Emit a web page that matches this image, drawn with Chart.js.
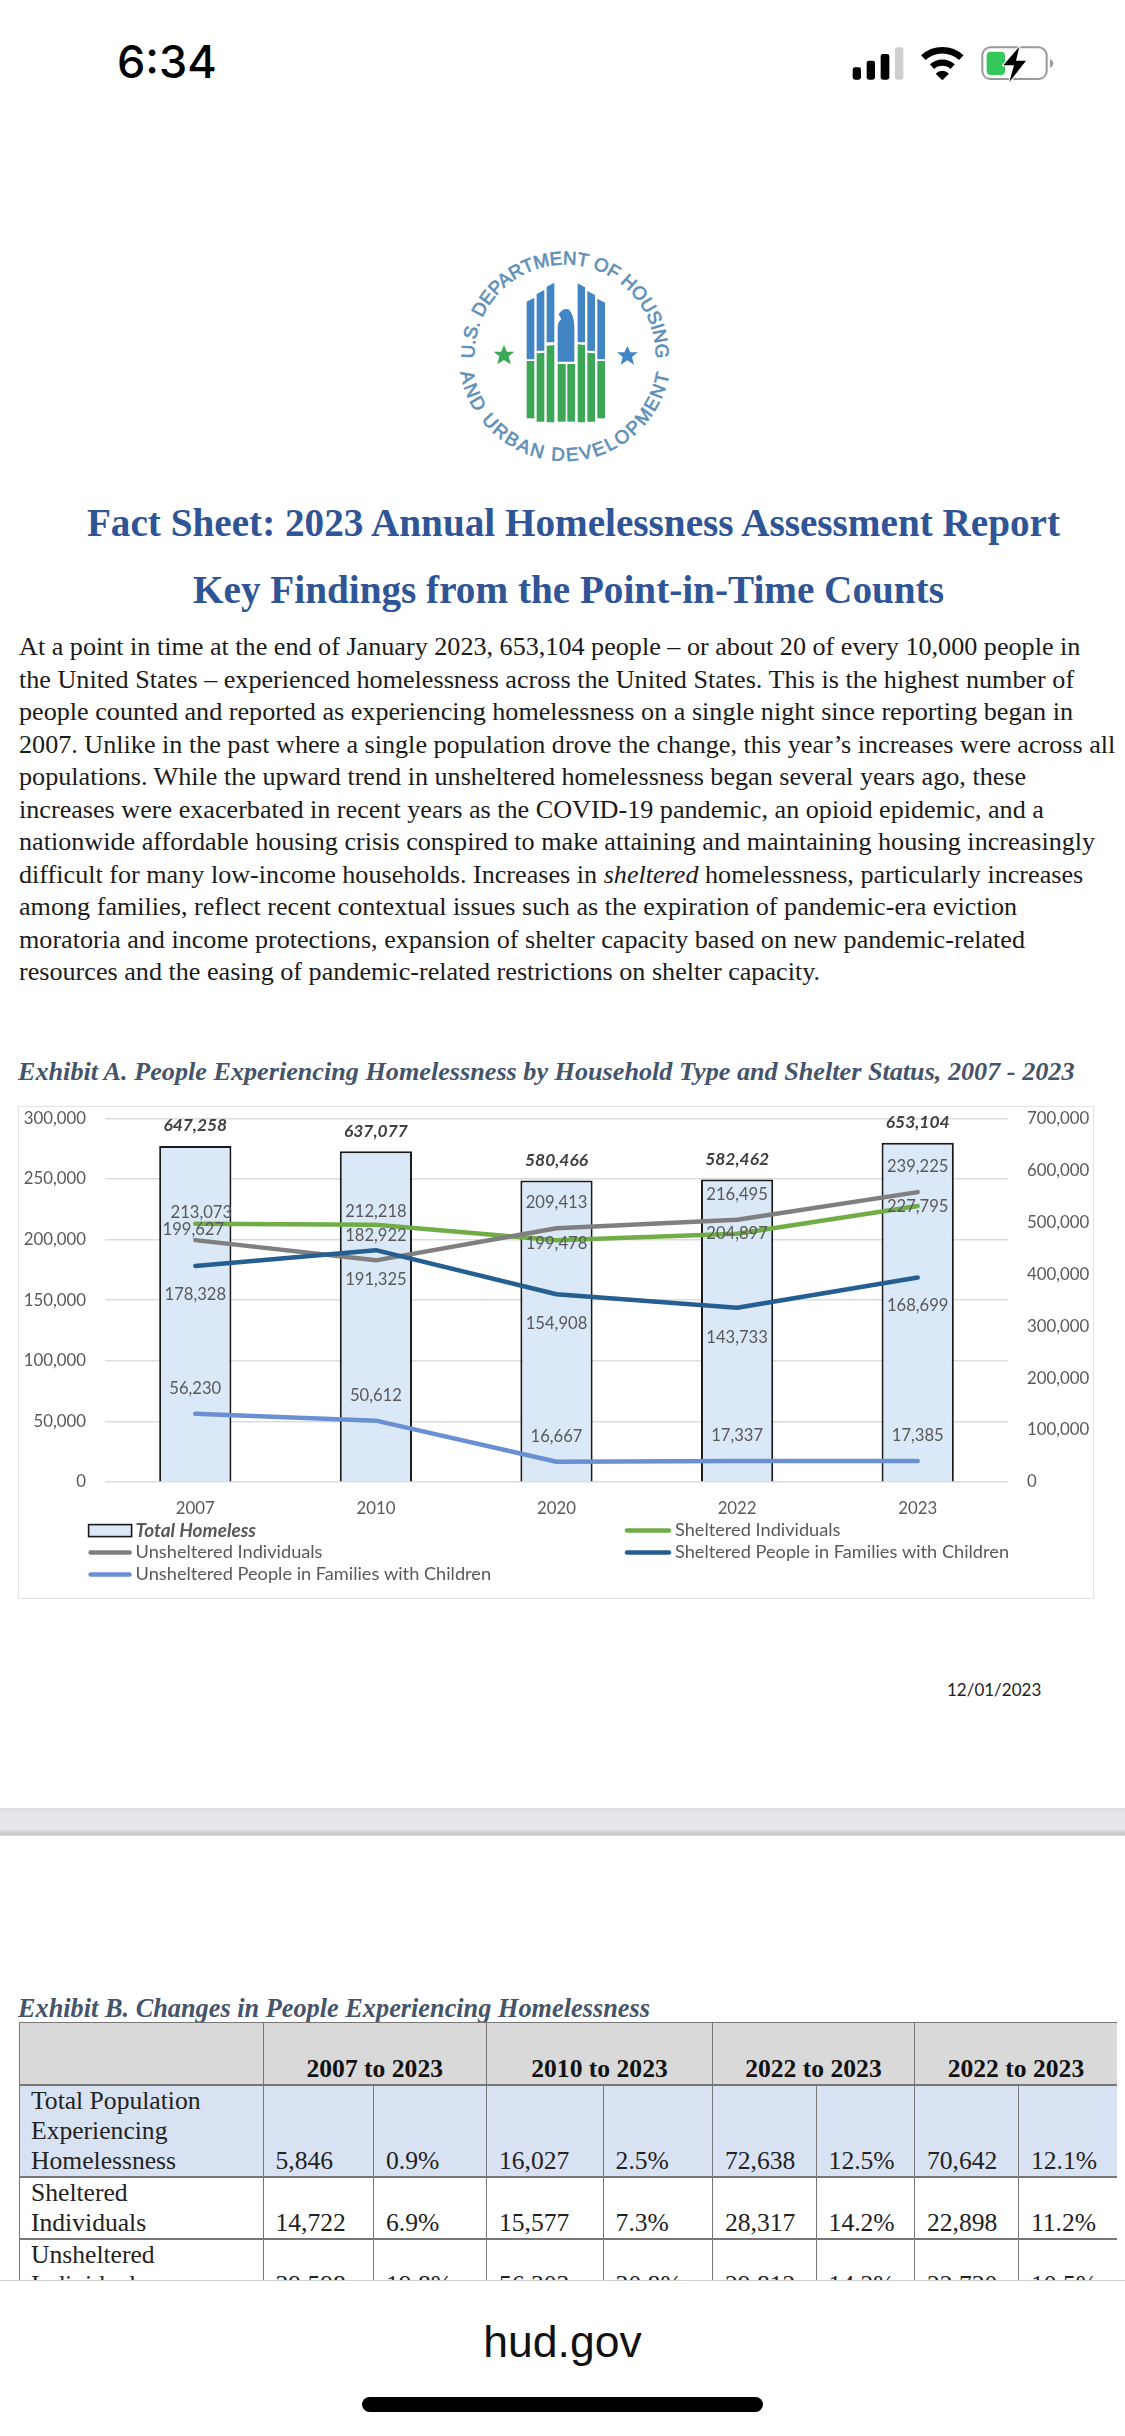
<!DOCTYPE html>
<html>
<head>
<meta charset="utf-8">
<title>Fact Sheet: 2023 AHAR</title>
<script src="https://cdn.jsdelivr.net/npm/chart.js@4"></script>
<style>
  html, body { margin: 0; padding: 0; background: #fff; }
  body { position: relative; width: 1125px; height: 2436px; overflow: hidden; font-family: "Liberation Serif", serif; }
  .abs { position: absolute; white-space: pre; }
  .title { width: 1125px; text-align: center; font-weight: bold; font-size: 39.2px; line-height: 44px; color: #2f5597; }
  .para { left: 19px; top: 631px; font-size: 26.15px; line-height: 32.5px; color: #1a1a1a; }
  .exhibit { font-weight: bold; font-style: italic; color: #44546a; }
  #chartBox { position: absolute; left: 18px; top: 1106px; width: 1076px; height: 493px; box-sizing: border-box; border: 1.5px solid #e2e2e2; }
  #chartBox canvas { position: absolute; left: -1.5px; top: -1.5px; }
  #tableClip { position: absolute; left: 19px; top: 2022px; width: 1098px; height: 258px; overflow: hidden; }
  #tableClip table { border-collapse: collapse; table-layout: fixed; width: 1098px; font-size: 25.6px; line-height: 30px; color: #222; }
  #tableClip td, #tableClip th { border: 1.5px solid #777; padding: 0 0 0 12px; vertical-align: bottom; box-sizing: border-box; }
  #tableClip th { background: #d9d9d9; text-align: center; padding-left: 0; color: #111; border-bottom-width: 2.5px; }
  #tableClip tr.total td { background: #d9e2f3; border-bottom-width: 2.5px; }
  #tableClip tr.plain td { background: #fff; border-bottom-width: 2.5px; }
  #tableClip td.name { padding-left: 11px; }
</style>
</head>
<body>

<div class="abs" style="left:117px;top:35px;font-family:Inter,sans-serif;font-weight:500;font-size:45px;line-height:54px;color:#000">6:34</div>

<svg class="abs" style="left:780px;top:20px" width="345" height="80" viewBox="0 0 1035 240">
  <rect x="218" y="142" width="25" height="37" rx="7" fill="#000"/>
  <rect x="260" y="122" width="25" height="57" rx="7" fill="#000"/>
  <rect x="302" y="102" width="26" height="77" rx="7" fill="#000"/>
  <rect x="345" y="82" width="25" height="97" rx="7" fill="#cfcfcf"/>
  <path d="M430 113 A84 84 0 0 1 544 113" fill="none" stroke="#000" stroke-width="20"/>
  <path d="M456 140 A46 46 0 0 1 518 140" fill="none" stroke="#000" stroke-width="19"/>
  <path d="M467 161 A28 28 0 0 1 507 161 L487 181 Z" fill="#000"/>
  <rect x="607" y="82" width="193" height="95" rx="24" fill="none" stroke="#9a9a9a" stroke-width="6"/>
  <path d="M810 117 Q820 122 820 130 Q820 138 810 143 Z" fill="#9a9a9a"/>
  <rect x="620" y="95" width="55" height="70" rx="12" fill="#34c759"/>
  <path d="M718 80 L670 136 L702 136 L688 186 L738 122 L708 122 Z" fill="#000" stroke="#fff" stroke-width="7" paint-order="stroke" stroke-linejoin="round"/>
</svg>

<svg class="abs" style="left:400px;top:220px" width="320" height="260" viewBox="0 0 960 780">
  <defs>
    <path id="arcTop" d="M227 452 A272 272 0 1 1 763 452"/>
    <path id="arcBottom" d="M177 405 A318 318 0 0 0 813 405"/>
  </defs>
  <g font-family="Liberation Sans, sans-serif" font-size="56" fill="#5f90b8" stroke="#5f90b8" stroke-width="2">
    <text text-anchor="middle" letter-spacing="0"><textPath href="#arcTop" startOffset="50%">U.S. DEPARTMENT OF HOUSING</textPath></text>
    <text text-anchor="middle" letter-spacing="6"><textPath href="#arcBottom" startOffset="50%">AND URBAN DEVELOPMENT</textPath></text>
  </g>
  <g fill="#4285c4">
    <polygon points="380,245 403,233 403,418 380,418"/>
    <polygon points="410,222 433,210 433,392 410,392"/>
    <polygon points="440,200 463,188 463,367 440,367"/>
    <polygon points="533,190 555,202 555,367 533,367"/>
    <polygon points="562,213 585,225 585,392 562,392"/>
    <polygon points="592,236 615,248 615,418 592,418"/>
    <path d="M473 425 L473 322 Q474 304 484 298 L476 283 Q488 264 506 268 Q522 284 523 320 L523 425 Z"/>
    <polygon points="682,378 691,397 713,397 696,411 702,434 682,421 662,434 668,411 651,397 673,397"/>
  </g>
  <g fill="#3ba757">
    <polygon points="380,423 403,423 403,595 380,595"/>
    <polygon points="410,400 433,398 433,605 410,605"/>
    <polygon points="440,377 463,375 463,607 440,607"/>
    <rect x="473" y="432" width="24" height="173"/>
    <rect x="502" y="432" width="23" height="173"/>
    <polygon points="533,373 555,375 555,607 533,607"/>
    <polygon points="562,398 585,400 585,605 562,605"/>
    <polygon points="592,423 615,423 615,595 592,595"/>
    <polygon points="312,376 321,395 343,395 326,409 332,433 312,420 292,433 298,409 281,395 303,395"/>
  </g>
</svg>

<div class="abs title" style="left:11px;top:501px">Fact Sheet: 2023 Annual Homelessness Assessment Report</div>
<div class="abs title" style="left:6px;top:568px">Key Findings from the Point-in-Time Counts</div>

<div class="abs para">At a point in time at the end of January 2023, 653,104 people – or about 20 of every 10,000 people in
the United States – experienced homelessness across the United States. This is the highest number of
people counted and reported as experiencing homelessness on a single night since reporting began in
2007. Unlike in the past where a single population drove the change, this year’s increases were across all
populations. While the upward trend in unsheltered homelessness began several years ago, these
increases were exacerbated in recent years as the COVID-19 pandemic, an opioid epidemic, and a
nationwide affordable housing crisis conspired to make attaining and maintaining housing increasingly
difficult for many low-income households. Increases in <i>sheltered</i> homelessness, particularly increases
among families, reflect recent contextual issues such as the expiration of pandemic-era eviction
moratoria and income protections, expansion of shelter capacity based on new pandemic-related
resources and the easing of pandemic-related restrictions on shelter capacity.</div>

<div class="abs exhibit" style="left:18px;top:1056px;font-size:26.2px;line-height:32px">Exhibit A. People Experiencing Homelessness by Household Type and Shelter Status, 2007 - 2023</div>

<div id="chartBox"><canvas id="myChart" width="1076" height="493"></canvas></div>

<div class="abs" style="left:947px;top:1678px;font-family:Lato,sans-serif;font-size:17px;line-height:24px;color:#222">12/01/2023</div>

<div class="abs" style="left:0;top:1808px;width:1125px;height:28px;background:linear-gradient(#dedee2,#e8e8ec 20%,#e6e6ea 75%,#c4c4c8 96%,#f0f0f2)"></div>

<div class="abs exhibit" style="left:18px;top:1994px;font-size:26.3px;line-height:30px">Exhibit B. Changes in People Experiencing Homelessness</div>

<div id="tableClip">
  <table id="changeTable">
    <colgroup id="changeCols"></colgroup>
  </table>
</div>

<div class="abs" style="left:0;top:2280px;width:1125px;height:156px;background:#fff;border-top:1px solid #cfcfcf"></div>
<div class="abs" style="left:0;top:2315px;width:1125px;text-align:center;font-family:'Liberation Sans',sans-serif;font-size:44.5px;line-height:54px;color:#111">hud.gov</div>
<div class="abs" style="left:362px;top:2397px;width:401px;height:15px;border-radius:8px;background:#000"></div>

<script>
const categories = ["2007", "2010", "2020", "2022", "2023"];
const seriesNames = [
  "Total Homeless",
  "Sheltered Individuals",
  "Unsheltered Individuals",
  "Sheltered People in Families with Children",
  "Unsheltered People in Families with Children",
];
const totalHomeless = [647258, 637077, 580466, 582462, 653104];
const shelteredIndividuals = [213073, 212218, 199478, 204897, 227795];
const unshelteredIndividuals = [199627, 182922, 209413, 216495, 239225];
const shelteredFamilies = [178328, 191325, 154908, 143733, 168699];
const unshelteredFamilies = [56230, 50612, 16667, 17337, 17385];

const tableColumns = [243.5, 110.5, 113, 116.6, 109.4, 103.6, 98.4, 104, 99];
const tableHeads = ["2007 to 2023", "2010 to 2023", "2022 to 2023", "2022 to 2023"];
const tableRows = [
  ["total", "Total Population\nExperiencing\nHomelessness", "5,846", "0.9%", "16,027", "2.5%", "72,638", "12.5%", "70,642", "12.1%"],
  ["plain", "Sheltered\nIndividuals", "14,722", "6.9%", "15,577", "7.3%", "28,317", "14.2%", "22,898", "11.2%"],
  ["plain", "Unsheltered\nIndividuals", "39,598", "19.8%", "56,303", "30.8%", "29,812", "14.2%", "22,730", "10.5%"],
];

const textColor = "#595959";
const chartFont = "Lato, sans-serif";

// label offsets from the mark, hand placed like in the original
const labelNudges = [
  [[0, -20], [0, -20], [0, -20], [0, -20], [0, -20]],
  [[6, -11.5], [0, -13.5], [0, 3], [0, 0], [0, 1]],
  [[-2, -10.5], [0, -25], [0, -26], [0, -25.5], [0, -25.5]],
  [[0, 29], [0, 29], [0, 29], [0, 29.5], [0, 28]],
  [[0, -25.5], [0, -25.5], [0, -25.5], [0, -25.5], [0, -25.5]],
];

const lineSet = (i, values, color, order) => ({
  type: "line",
  label: seriesNames[i],
  data: values,
  yAxisID: "y",
  borderColor: color,
  backgroundColor: color,
  borderWidth: 4.5,
  borderCapStyle: "round",
  borderJoinStyle: "round",
  pointRadius: 0,
  tension: 0,
  order: order,
});

const valueLabels = {
  id: "valueLabels",
  afterDatasetsDraw(chart) {
    const ctx = chart.ctx;
    ctx.save();
    ctx.textAlign = "center";
    ctx.textBaseline = "middle";
    chart.data.datasets.forEach((set, i) => {
      ctx.font = (i === 0 ? "italic bold 17.4px " : "16.6px ") + chartFont;
      ctx.fillStyle = i === 0 ? "#404040" : textColor;
      chart.getDatasetMeta(i).data.forEach((el, j) => {
        const text = set.data[j].toLocaleString("en-US");
        ctx.fillText(text, el.x + labelNudges[i][j][0], el.y + labelNudges[i][j][1]);
      });
    });
    ctx.restore();
  },
};

const sideLegend = {
  id: "sideLegend",
  afterDraw(chart) {
    const ctx = chart.ctx;
    const area = chart.chartArea;
    const rowTop = area.bottom + 48.6;
    const rowGap = 22;
    // column, row for each series
    const slots = [[0, 0], [1, 0], [0, 1], [1, 1], [0, 2]];
    const columns = [{ x: area.left - 16.4, w: 43 }, { x: area.left + 520, w: 46 }];
    ctx.save();
    ctx.textBaseline = "middle";
    ctx.textAlign = "left";
    chart.data.datasets.forEach((set, i) => {
      const col = columns[slots[i][0]];
      const y = rowTop + slots[i][1] * rowGap;
      if (i === 0) {
        ctx.fillStyle = set.backgroundColor;
        ctx.strokeStyle = set.borderColor;
        ctx.lineWidth = 1.6;
        ctx.fillRect(col.x, y - 6, col.w, 12);
        ctx.strokeRect(col.x, y - 6, col.w, 12);
      } else {
        ctx.strokeStyle = set.borderColor;
        ctx.lineWidth = 4.5;
        ctx.lineCap = "round";
        ctx.beginPath();
        ctx.moveTo(col.x + 2, y);
        ctx.lineTo(col.x + col.w - 2, y);
        ctx.stroke();
      }
      ctx.font = (i === 0 ? "italic bold 19px " : "18.2px ") + chartFont;
      ctx.fillStyle = textColor;
      ctx.fillText(set.label, col.x + col.w + 4, y);
    });
    ctx.restore();
  },
};

const ctx = document.getElementById("myChart").getContext("2d");
const myChart = new Chart(ctx, {
  type: "bar",
  data: {
    labels: categories,
    datasets: [
      {
        type: "bar",
        label: seriesNames[0],
        data: totalHomeless,
        yAxisID: "y1",
        backgroundColor: "#dbe8f7",
        borderColor: "#1a1a1a",
        borderWidth: 2,
        categoryPercentage: 0.4,
        barPercentage: 1,
        order: 9,
      },
      lineSet(1, shelteredIndividuals, "#70ad47", 4),
      lineSet(2, unshelteredIndividuals, "#7f7f7f", 3),
      lineSet(3, shelteredFamilies, "#255e91", 2),
      lineSet(4, unshelteredFamilies, "#6a8fd3", 1),
    ],
  },
  options: {
    responsive: false,
    animation: false,
    layout: { padding: { top: 12.5, left: 0, right: 0, bottom: 0 } },
    plugins: { legend: { display: false }, tooltip: { enabled: false }, title: { display: false } },
    scales: {
      x: {
        grid: { display: false, drawTicks: false },
        border: { display: false },
        afterFit: (scale) => { scale.height = 117; },
        ticks: {
          maxRotation: 0,
          padding: 17,
          color: textColor,
          font: { family: chartFont, size: 16.8 },
        },
      },
      // label gap comes from an invisible tick, tick padding would push the plot top down
      y: {
        position: "left",
        min: 0,
        max: 300000,
        grid: { color: "#dcdcdc", lineWidth: 1.6, tickLength: 19, tickColor: "transparent" },
        border: { display: false },
        afterFit: (scale) => { scale.width = 87; },
        ticks: {
          stepSize: 50000,
          padding: 0,
          color: textColor,
          font: { family: chartFont, size: 16.8 },
          callback: (v) => v.toLocaleString("en-US"),
        },
      },
      y1: {
        position: "right",
        min: 0,
        max: 700000,
        grid: { drawOnChartArea: false, tickLength: 19, tickColor: "transparent" },
        border: { display: false },
        afterFit: (scale) => { scale.width = 86; },
        ticks: {
          stepSize: 100000,
          padding: 0,
          color: textColor,
          font: { family: chartFont, size: 16.8 },
          callback: (v) => v.toLocaleString("en-US"),
        },
      },
    },
  },
  plugins: [valueLabels, sideLegend],
});

// Exhibit B table
const table = document.getElementById("changeTable");
const cols = document.getElementById("changeCols");
tableColumns.forEach((w) => {
  const col = document.createElement("col");
  col.style.width = w + "px";
  cols.appendChild(col);
});
const headRow = table.insertRow();
headRow.style.height = "62px";
headRow.appendChild(document.createElement("th"));
tableHeads.forEach((text) => {
  const th = document.createElement("th");
  th.colSpan = 2;
  th.textContent = text;
  headRow.appendChild(th);
});
tableRows.forEach((row) => {
  const tr = table.insertRow();
  tr.className = row[0];
  row.slice(1).forEach((text, i) => {
    const td = tr.insertCell();
    if (i === 0) {
      td.className = "name";
      td.style.whiteSpace = "pre";
    }
    td.textContent = text;
  });
});
</script>
</body>
</html>
